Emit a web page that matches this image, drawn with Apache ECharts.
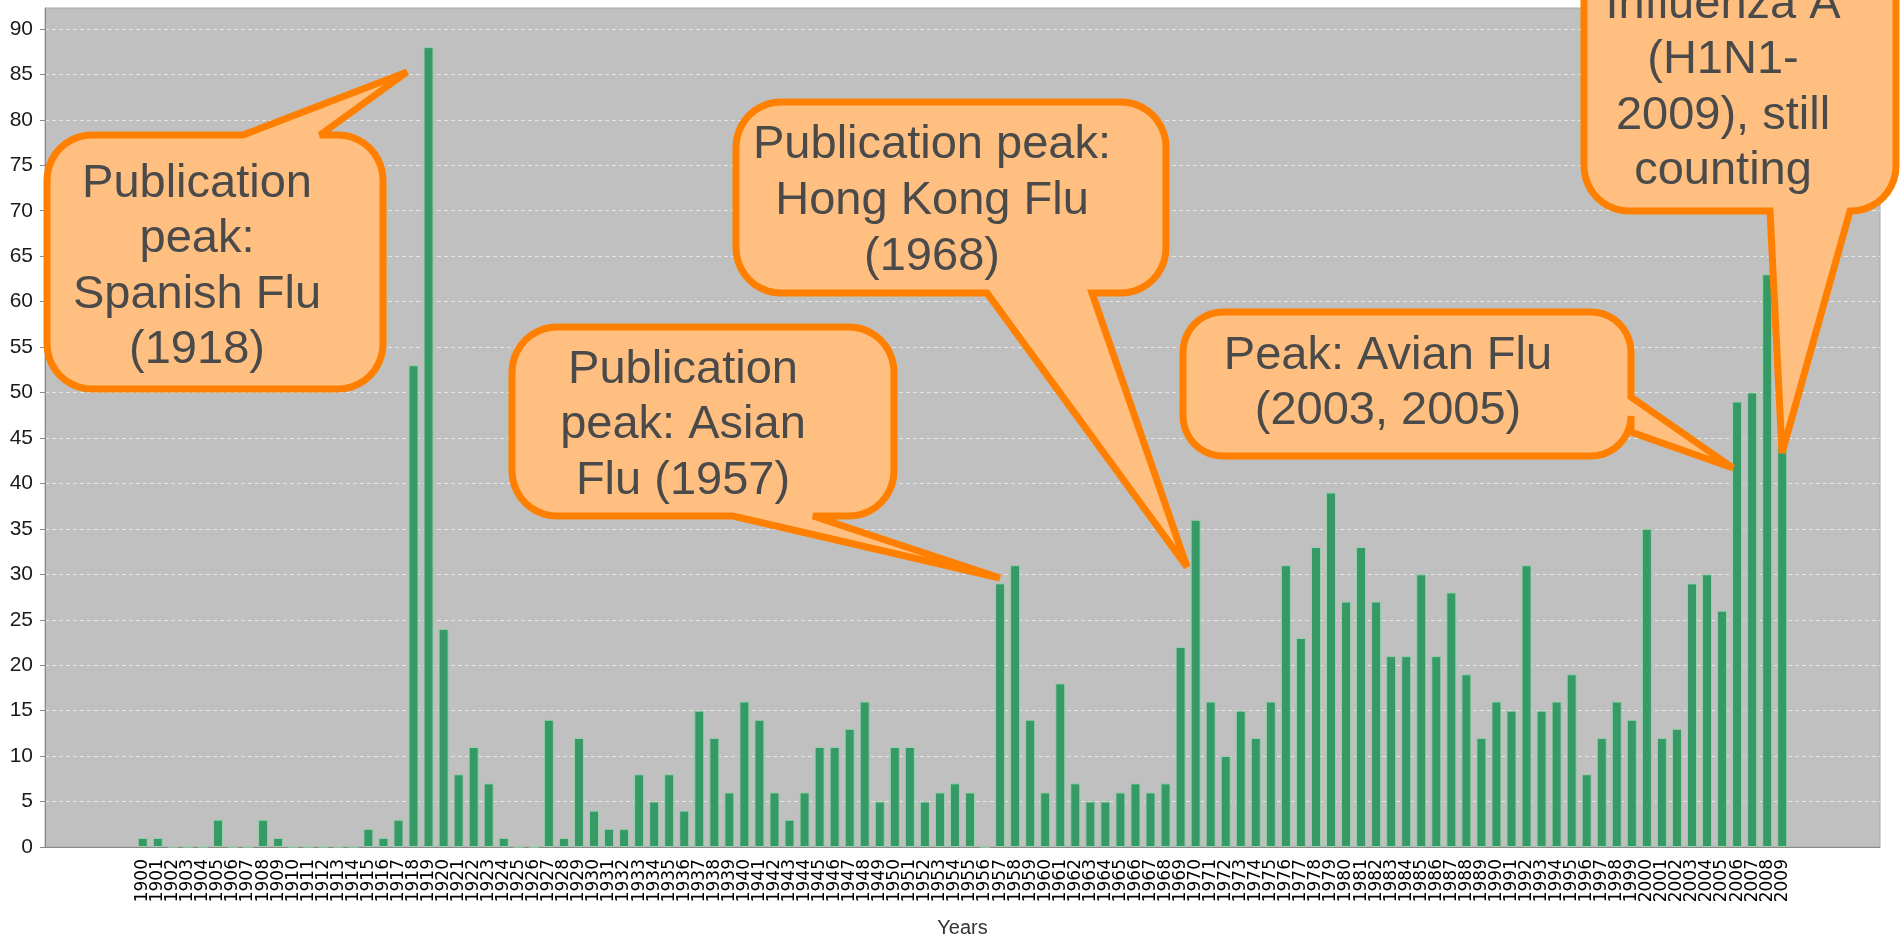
<!DOCTYPE html>
<html>
<head>
<meta charset="utf-8">
<title>Influenza publications per year</title>
<script src="https://cdn.jsdelivr.net/npm/echarts@6/dist/echarts.min.js"></script>
<style>
  html, body { margin: 0; padding: 0; background: #fff; }
  #chart { width: 1902px; height: 940px; }
</style>
</head>
<body>
<div id="chart"></div>
<script>
// years on the category axis
const years = [
  '1900','1901','1902','1903','1904','1905','1906','1907','1908','1909',
  '1910','1911','1912','1913','1914','1915','1916','1917','1918','1919',
  '1920','1921','1922','1923','1924','1925','1926','1927','1928','1929',
  '1930','1931','1932','1933','1934','1935','1936','1937','1938','1939',
  '1940','1941','1942','1943','1944','1945','1946','1947','1948','1949',
  '1950','1951','1952','1953','1954','1955','1956','1957','1958','1959',
  '1960','1961','1962','1963','1964','1965','1966','1967','1968','1969',
  '1970','1971','1972','1973','1974','1975','1976','1977','1978','1979',
  '1980','1981','1982','1983','1984','1985','1986','1987','1988','1989',
  '1990','1991','1992','1993','1994','1995','1996','1997','1998','1999',
  '2000','2001','2002','2003','2004','2005','2006','2007','2008','2009'
];

// publications per year
const counts = [
  1, 1, 0, 0, 0, 3, 0, 0, 3, 1,
  0, 0, 0, 0, 0, 2, 1, 3, 53, 88,
  24, 8, 11, 7, 1, 0, 0, 14, 1, 12,
  4, 2, 2, 8, 5, 8, 4, 15, 12, 6,
  16, 14, 6, 3, 6, 11, 11, 13, 16, 5,
  11, 11, 5, 6, 7, 6, 0, 29, 31, 14,
  6, 18, 7, 5, 5, 6, 7, 6, 7, 22,
  36, 16, 10, 15, 12, 16, 31, 23, 33, 39,
  27, 33, 27, 21, 21, 30, 21, 28, 19, 12,
  16, 15, 31, 15, 16, 19, 8, 12, 16, 14,
  35, 12, 13, 29, 30, 26, 49, 50, 63, 44
];

// y axis ticks
const yTicks = { min: 0, max: 92.3, step: 5 };

// callout texts
const notes = [
  { lines: ['Publication', 'peak:', 'Spanish Flu', '(1918)'] },
  { lines: ['Publication', 'peak: Asian', 'Flu (1957)'] },
  { lines: ['Publication peak:', 'Hong Kong Flu', '(1968)'] },
  { lines: ['Peak: Avian Flu', '(2003, 2005)'] },
  { lines: ['Influenza A', '(H1N1-', '2009), still', 'counting'] }
];

// empty slots left and right of the bars
const PAD = 6;
const padLabels = n => Array.from({ length: n }, (_, i) => ' '.repeat(i + 1));
const axisCats = [...padLabels(PAD), ...years, ...padLabels(PAD).map(s => s + '\u200b')];
const barData = [...Array(PAD).fill(null), ...counts, ...Array(PAD).fill(null)];

// bubble layout in pixels (box, pointer base on one side, tip, text centre / first baseline)
const bubbles = [
  { x1: 47, y1: 135, x2: 383, y2: 389, r: 45, side: 'top', a: 243, c: 320, tip: [407, 72],
    cx: 197, base: 200, step: 55.5 },
  { x1: 512, y1: 327, x2: 894, y2: 516, r: 45, side: 'bottom', a: 733, c: 813, tip: [1000, 578],
    cx: 683, base: 386, step: 55.5 },
  { x1: 736, y1: 102, x2: 1166, y2: 293, r: 45, side: 'bottom', a: 987, c: 1092, tip: [1187, 567],
    cx: 932, base: 161, step: 56 },
  { x1: 1183, y1: 312, x2: 1631, y2: 456, r: 40, side: 'right', a: 397, c: 432, tip: [1733, 468],
    cx: 1388, base: 372, step: 55 },
  { x1: 1584, y1: -120, x2: 1896, y2: 211, r: 45, side: 'bottom', a: 1770, c: 1850, tip: [1782, 453],
    cx: 1723, base: 21, step: 55.5 }
];

function arcPts(cx, cy, r, a0, a1) {
  const pts = [];
  const n = 10;
  for (let i = 0; i <= n; i++) {
    const t = (a0 + (a1 - a0) * i / n) * Math.PI / 180;
    pts.push([cx + r * Math.cos(t), cy + r * Math.sin(t)]);
  }
  return pts;
}

function bubblePoints(b) {
  const { x1, y1, x2, y2, r, side, a, c, tip } = b;
  let pts = [];
  if (side === 'top') pts.push([a, y1], tip, [c, y1]);
  pts = pts.concat(arcPts(x2 - r, y1 + r, r, -90, 0));
  if (side === 'right') pts.push([x2, a], tip, [x2, c]);
  pts = pts.concat(arcPts(x2 - r, y2 - r, r, 0, 90));
  if (side === 'bottom') pts.push([c, y2], tip, [a, y2]);
  pts = pts.concat(arcPts(x1 + r, y2 - r, r, 90, 180));
  pts = pts.concat(arcPts(x1 + r, y1 + r, r, 180, 270));
  return pts;
}

const FONT_SIZE = 47;
const graphics = [];
bubbles.forEach((b, i) => {
  graphics.push({
    type: 'polygon',
    z: 100,
    shape: { points: bubblePoints(b) },
    style: { fill: '#ffbf80', stroke: '#ff8000', lineWidth: 7, lineJoin: 'miter', miterLimit: 2.5 }
  });
  notes[i].lines.forEach((line, k) => {
    graphics.push({
      type: 'text',
      z: 101,
      x: b.cx,
      y: b.base + k * b.step - FONT_SIZE * 0.3465,
      style: {
        text: line,
        fontFamily: 'Liberation Sans',
        fontSize: FONT_SIZE,
        fill: '#4a4a4a',
        align: 'center',
        verticalAlign: 'middle'
      }
    });
  });
});

const chart = echarts.init(document.getElementById('chart'));
chart.setOption({
  animation: false,
  grid: {
    left: 45, right: 22, top: 8, bottom: 93,
    outerBoundsMode: 'none',
    show: true, backgroundColor: '#c0c0c0', borderColor: '#a8a8a8', borderWidth: 1
  },
  xAxis: {
    type: 'category',
    data: axisCats,
    name: 'Years',
    nameLocation: 'middle',
    nameGap: 71,
    nameTextStyle: { fontFamily: 'Liberation Sans', fontSize: 20, color: '#333' },
    axisLine: { lineStyle: { color: '#8a8a8a' } },
    axisTick: { show: false },
    axisLabel: {
      interval: 0, rotate: 90, margin: 12,
      fontFamily: 'DejaVu Sans', fontSize: 17, color: '#000'
    }
  },
  yAxis: {
    type: 'value',
    min: yTicks.min,
    max: yTicks.max,
    interval: yTicks.step,
    axisLine: { show: true, lineStyle: { color: '#8a8a8a' } },
    axisTick: { show: true, length: 5, lineStyle: { color: '#8a8a8a' } },
    axisLabel: {
      showMaxLabel: false, margin: 12,
      fontFamily: 'Liberation Sans', fontSize: 21, color: '#1a1a1a'
    },
    splitLine: {
      showMaxLine: false,
      lineStyle: { color: '#e6e6e6', width: 1, type: [4, 3] }
    }
  },
  series: [{
    type: 'bar',
    data: barData,
    barWidth: 10,
    itemStyle: { color: '#369a66', borderColor: '#9acfac', borderWidth: 1 }
  }],
  graphic: graphics
});
</script>
</body>
</html>
